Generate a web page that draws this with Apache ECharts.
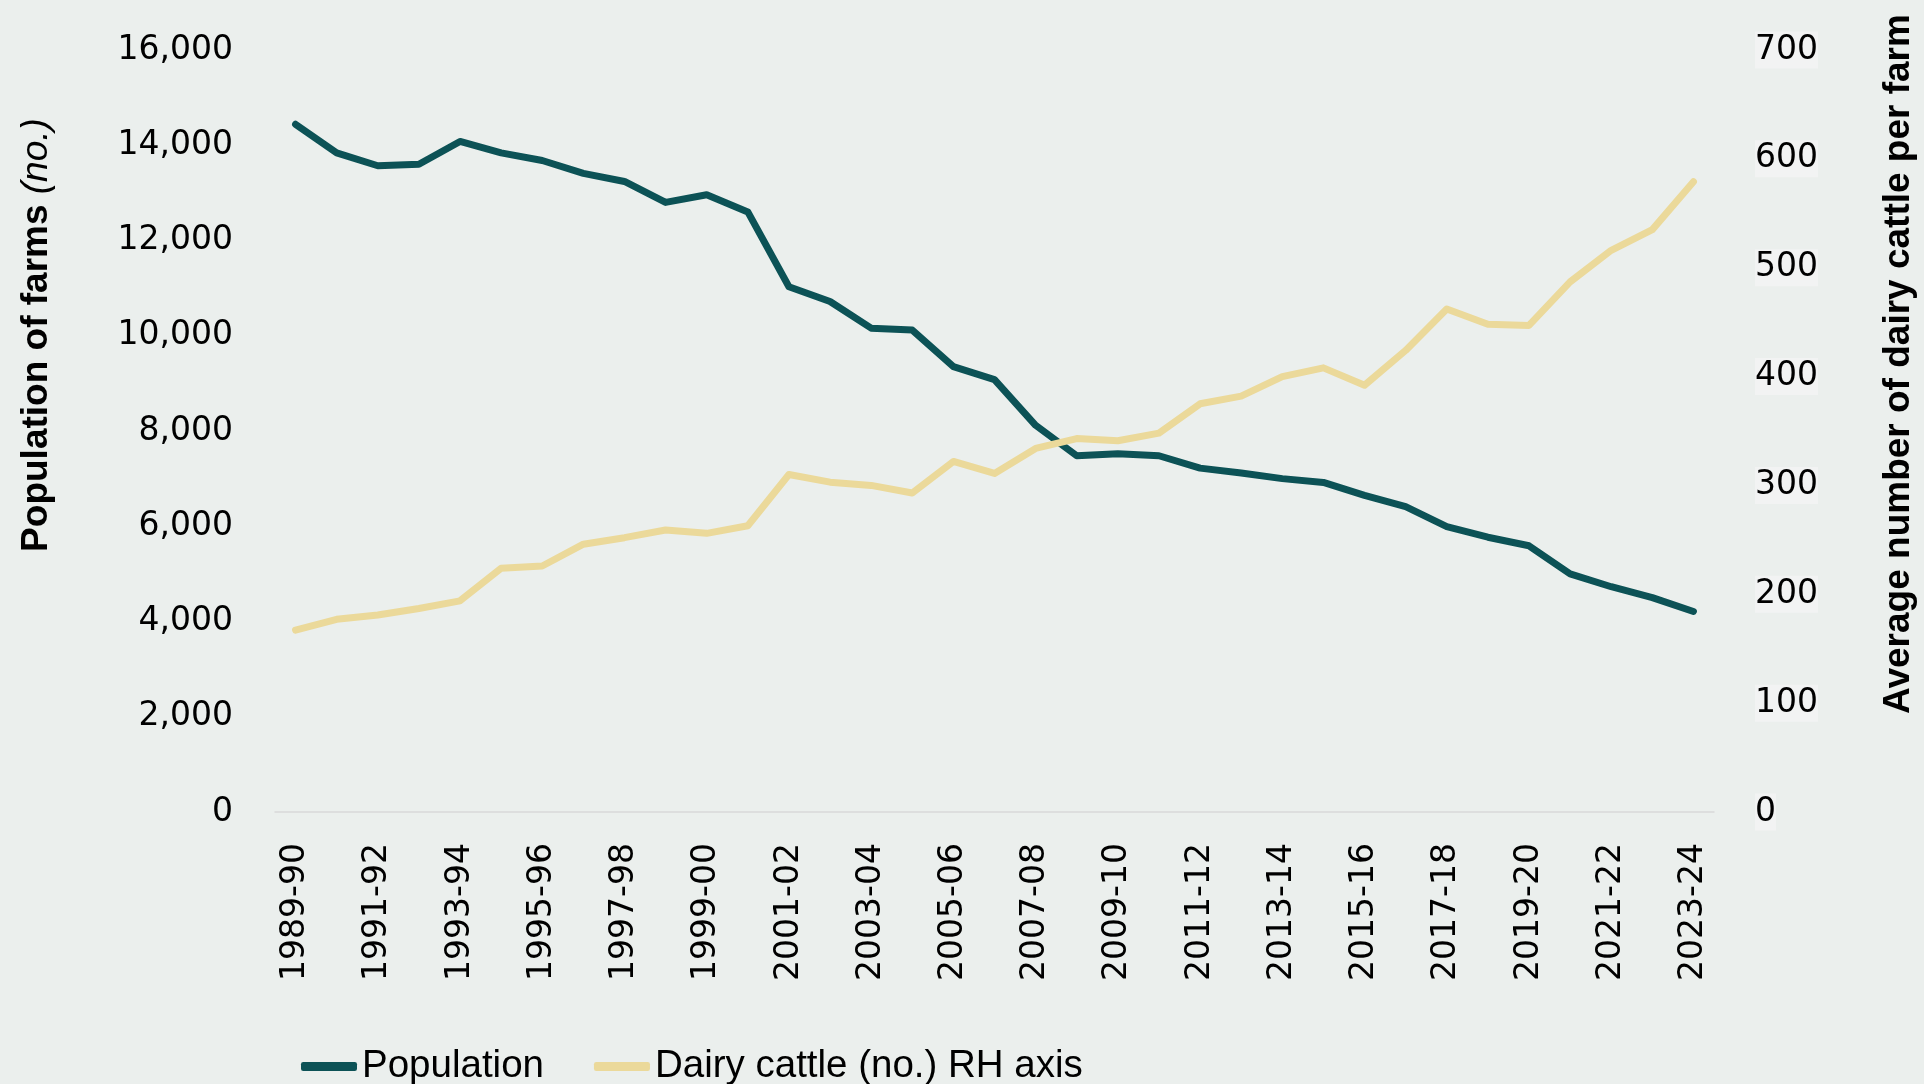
<!DOCTYPE html>
<html>
<head>
<meta charset="utf-8">
<script src="https://cdn.jsdelivr.net/npm/echarts@6/dist/echarts.min.js"></script>
<style>
  html, body { margin: 0; padding: 0; background: #ebefed; }
  #chart { width: 1924px; height: 1084px; }
</style>
</head>
<body>
<div id="chart"></div>
<script>
// financial years on the x axis
const years = [
  '1989-90', '1990-91', '1991-92', '1992-93', '1993-94', '1994-95', '1995-96',
  '1996-97', '1997-98', '1998-99', '1999-00', '2000-01', '2001-02', '2002-03',
  '2003-04', '2004-05', '2005-06', '2006-07', '2007-08', '2008-09', '2009-10',
  '2010-11', '2011-12', '2012-13', '2013-14', '2014-15', '2015-16', '2016-17',
  '2017-18', '2018-19', '2019-20', '2020-21', '2021-22', '2022-23', '2023-24'
]

// number of farms (left axis)
const population = [
  14440, 13840, 13570, 13600, 14080, 13840, 13680, 13410, 13240, 12800,
  12960, 12600, 11030, 10720, 10160, 10120, 9350, 9080, 8120, 7480,
  7520, 7480, 7220, 7120, 7000, 6920, 6650, 6410, 5990, 5770,
  5590, 5000, 4730, 4500, 4210
]

// average dairy cattle per farm (right axis)
const dairyCattle = [
  167, 177, 181, 187, 194, 224, 226, 246, 252, 259,
  256, 263, 310, 303, 300, 293, 322, 311, 334, 343,
  341, 348, 375, 382, 400, 408, 392, 424, 462, 448,
  447, 487, 516, 535, 579
]

const leftTicks = { min: 0, max: 16000, interval: 2000 }
const rightTicks = { min: 0, max: 700, interval: 100 }

const TEAL = '#0c5256'
const GOLD = '#ebd99a'
const tickFont = 'DejaVu Sans'
const titleFont = 'Liberation Sans'

const chart = echarts.init(document.getElementById('chart'))

const option = {
  backgroundColor: '#ebefed',
  animation: false,
  grid: {
    left: 275,
    right: 210,
    top: 50,
    bottom: 272
  },
  legend: {
    left: 296,
    top: 1042,
    icon: 'roundRect',
    itemWidth: 56,
    itemHeight: 9,
    itemGap: 50,
    textStyle: {
      fontFamily: titleFont,
      fontSize: 38.5,
      color: '#000'
    },
    data: ['Population', 'Dairy cattle (no.) RH axis']
  },
  xAxis: {
    type: 'category',
    data: years,
    boundaryGap: true,
    axisTick: { show: false },
    axisLine: {
      lineStyle: { color: '#d9d9d9', width: 1.5 }
    },
    axisLabel: {
      interval: 1,
      rotate: 90,
      margin: 31,
      color: '#000',
      fontFamily: tickFont,
      fontSize: 33
    }
  },
  yAxis: [
    {
      type: 'value',
      min: leftTicks.min,
      max: leftTicks.max,
      interval: leftTicks.interval,
      axisLine: { show: false },
      axisTick: { show: false },
      splitLine: { show: false },
      axisLabel: {
        margin: 42,
        color: '#000',
        fontFamily: tickFont,
        fontSize: 33,
        formatter: v => v.toLocaleString('en-US')
      }
    },
    {
      type: 'value',
      position: 'right',
      min: rightTicks.min,
      max: rightTicks.max,
      interval: rightTicks.interval,
      axisLine: { show: false },
      axisTick: { show: false },
      splitLine: { show: false },
      axisLabel: {
        margin: 41,
        color: '#000',
        fontFamily: tickFont,
        fontSize: 33,
        backgroundColor: '#f2f3f3',
        padding: [2, 0, 2, 0]
      }
    }
  ],
  graphic: [
    {
      type: 'text',
      x: 37,
      y: 335,
      rotation: Math.PI / 2,
      style: {
        text: '{b|Population of farms }{i|(no.)}',
        textAlign: 'center',
        textVerticalAlign: 'middle',
        rich: {
          b: { fontFamily: titleFont, fontSize: 37, fontWeight: 'bold', fill: '#000' },
          i: { fontFamily: titleFont, fontSize: 37, fontStyle: 'italic', fill: '#000' }
        }
      }
    },
    {
      type: 'text',
      x: 1899,
      y: 364,
      rotation: Math.PI / 2,
      style: {
        text: 'Average number of dairy cattle per farm',
        textAlign: 'center',
        textVerticalAlign: 'middle',
        fontFamily: titleFont,
        fontSize: 37,
        fontWeight: 'bold',
        fill: '#000'
      }
    }
  ],
  series: [
    {
      name: 'Population',
      type: 'line',
      yAxisIndex: 0,
      data: population,
      showSymbol: false,
      color: TEAL,
      lineStyle: { color: TEAL, width: 7, cap: 'round', join: 'round' }
    },
    {
      name: 'Dairy cattle (no.) RH axis',
      type: 'line',
      yAxisIndex: 1,
      data: dairyCattle,
      showSymbol: false,
      color: GOLD,
      lineStyle: { color: GOLD, width: 7, cap: 'round', join: 'round' }
    }
  ]
}

chart.setOption(option)
</script>
</body>
</html>
